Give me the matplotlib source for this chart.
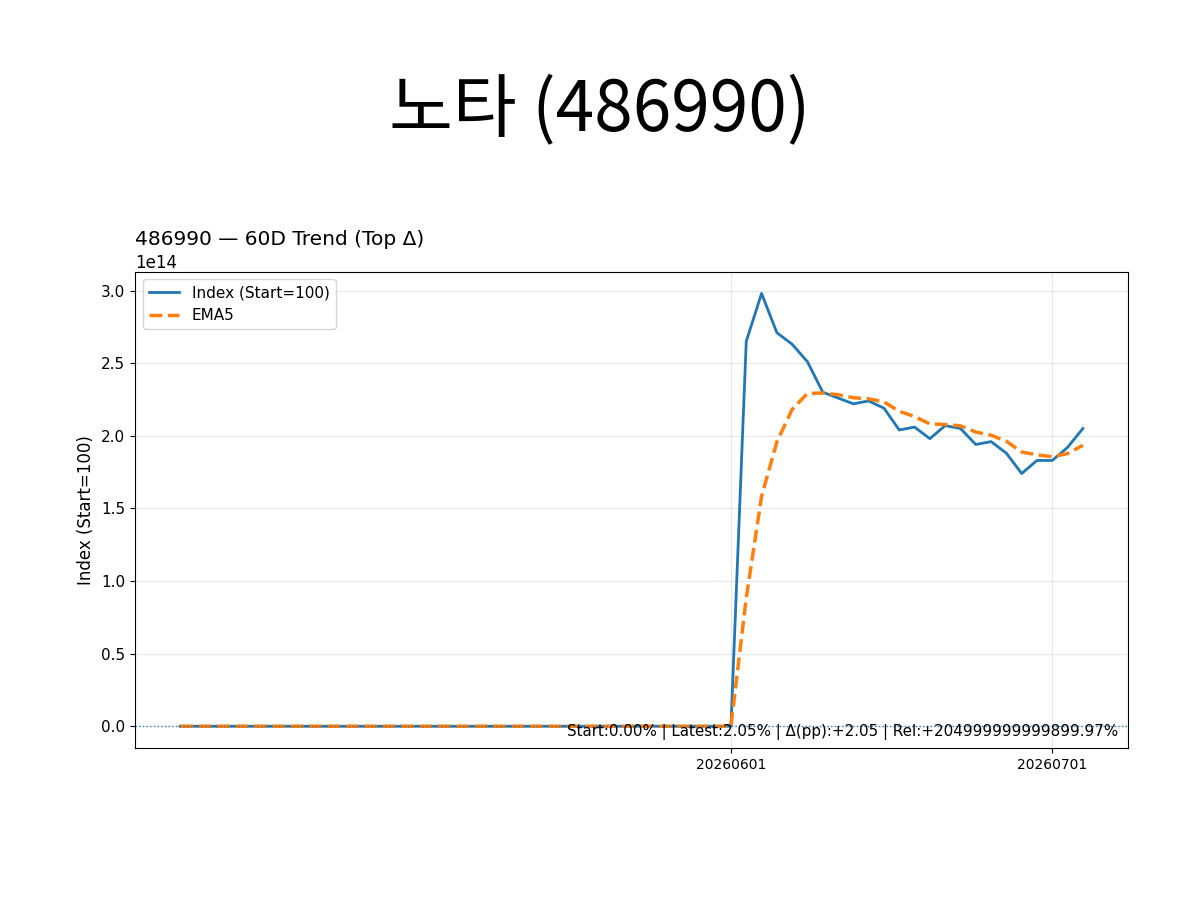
import numpy as np
import pandas as pd
import matplotlib
matplotlib.use('Agg')
import matplotlib.pyplot as plt

name = '노타'
code = '486990'

# KRX closed days inside the window
holidays = ['2026-05-01', '2026-05-05', '2026-05-25', '2026-06-03']
dates = pd.bdate_range('2026-04-07', '2026-07-03', freq='C', holidays=holidays)
labels = [d.strftime('%Y%m%d') for d in dates]

# index values (start = 100), flat until the jump in June
index_vals = [100.0] * 37 + [
    2.65e14, 2.98e14, 2.71e14, 2.63e14, 2.51e14, 2.30e14, 2.26e14, 2.22e14,
    2.24e14, 2.19e14, 2.04e14, 2.06e14, 1.98e14, 2.07e14, 2.05e14, 1.94e14,
    1.96e14, 1.88e14, 1.74e14, 1.83e14, 1.83e14, 1.92e14, 2.05e14,
]
tick_dates = ['20260601', '20260701']
summary = 'Start:0.00% | Latest:2.05% | Δ(pp):+2.05 | Rel:+204999999999899.97%'

s = pd.Series(index_vals)
ema5 = s.ewm(span=5, adjust=False).mean()
x = np.arange(len(s))

fig = plt.figure(figsize=(12, 9), dpi=100)
ax = fig.add_axes([0.1125, 0.169, 0.8275, 0.529])

ax.plot(x, s, color='tab:blue', lw=2, label='Index (Start=100)')
ax.plot(x, ema5, color='tab:orange', lw=2.5, ls='--', label='EMA5')
ax.axhline(100, color='tab:blue', lw=1, ls=':', alpha=0.9)

pos = [labels.index(t) for t in tick_dates]
ax.set_xticks(pos)
ax.set_xticklabels(tick_dates)
ax.grid(True, alpha=0.3)
ax.tick_params(labelsize=11)
ax.tick_params(axis='x', labelsize=10)

ax.set_ylabel('Index (Start=100)', fontsize=12)
ax.set_title(f'{code} — 60D Trend (Top Δ)', loc='left', fontsize=14.5)
ax.yaxis.get_offset_text().set_fontsize(12)
ax.legend(loc='upper left', fontsize=11)
ax.text(0.99, 0.017, summary, transform=ax.transAxes, ha='right', va='bottom',
        fontsize=10.9)

fig.suptitle(f'{name} ({code})', fontsize=50, y=0.876, va='center',
             family=['Noto Sans CJK KR', 'DejaVu Sans'])

fig.savefig('out.png', dpi=100)
